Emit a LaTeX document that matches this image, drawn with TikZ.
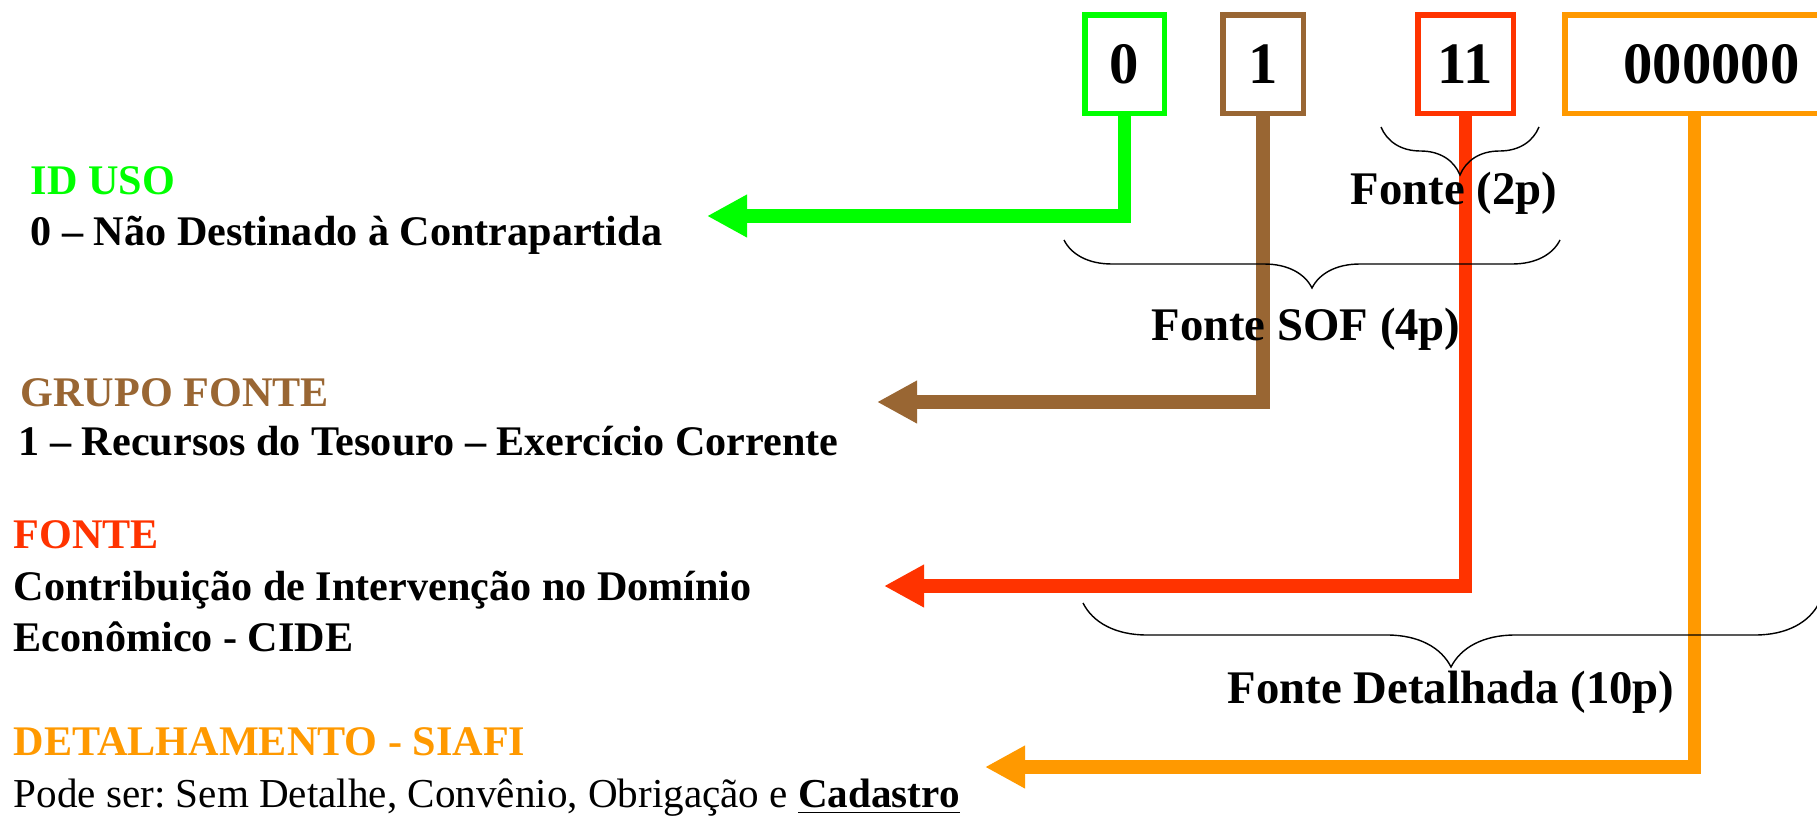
\documentclass[tikz,border=0pt]{standalone}
\usepackage{fontspec}
\setmainfont{Liberation Serif}
\usetikzlibrary{arrows.meta,decorations.pathreplacing}
\definecolor{idgreen}{RGB}{0,255,0}
\definecolor{grpbrown}{RGB}{153,102,51}
\definecolor{fontred}{RGB}{255,51,0}
\definecolor{detorange}{RGB}{255,153,0}
\frenchspacing
\tikzset{
  digit/.style={draw,line width=0.55mm,inner sep=0pt,minimum height=9.85mm,font=\fontsize{16.7}{20}\selectfont\bfseries},
  feed/.style={line width=1.35mm,-{Triangle[length=4mm,width=4mm]}},
  txt/.style={anchor=base west,inner sep=0pt,font=\fontsize{12}{14}\selectfont\bfseries},
  curly/.style={decorate,decoration={brace,mirror,amplitude=#1}},
  bracelabel/.style={anchor=base,inner sep=0pt,font=\fontsize{13.3}{16}\selectfont\bfseries}
}
\begin{document}
\begin{tikzpicture}[x=0.1mm,y=-0.1mm]
                \useasboundingbox (0,0) rectangle (1817,816);
                \node[digit,draw=idgreen,minimum width=7.95mm] (d1) at (1124.5,64) {0};
                \node[digit,draw=grpbrown,minimum width=8.05mm] (d2) at (1263,64) {1};
                \node[digit,draw=fontred,minimum width=9.55mm] (d3) at (1465.5,64) {11};
                \node[digit,draw=detorange,minimum width=29.35mm] (d4) at (1711.5,64) {000000};
                \coordinate (t1) at (707,216);\coordinate (t2) at (877,402);
                \coordinate (t3) at (884,586);\coordinate (t4) at (985,767);
                \draw[feed,idgreen] (d1.south) |- (t1);
                \draw[feed,grpbrown] (d2.south) |- (t2);
                \draw[feed,fontred] (d3.south) |- (t3);
                \draw[feed,detorange] ([xshift=-1.7mm]d4.south) |- (t4);
                \coordinate (b1l) at (1381,127);\coordinate (b1r) at (1539,127);
                \coordinate (b2l) at (1064,240);\coordinate (b2r) at (1560,240);
                \coordinate (b3l) at (1083,603);\coordinate (b3r) at (1819,603);
                \draw[curly=4.8mm] (b1l) -- (b1r);
                \draw[curly=4.8mm] (b2l) -- (b2r);
                \draw[curly=6.4mm] (b3l) -- (b3r);
                \node[bracelabel] (f2) at (1454,204) {Fonte (2p)};
                \node[bracelabel] (f4) at (1306,340) {Fonte SOF (4p)};
                \node[bracelabel] (f10) at (1451,703) {Fonte Detalhada (10p)};
                \node[txt,idgreen] (idh) at (30,194) {ID USO};
                \node[txt] (idt) at (30,245) {0 – Não Destinado à Contrapartida};
                \node[txt,grpbrown] (grh) at (20,406) {GRUPO FONTE};
                \node[txt] (grt) at (18,455) {1 – Recursos do Tesouro – Exercício Corrente};
                \node[txt,fontred] (fnh) at (13,548) {FONTE};
                \node[txt] (fnt) at (13,600) {Contribuição de Intervenção no Domínio};
                \node[txt] (fnt2) at (13,651) {Econômico - CIDE};
                \node[txt,detorange] (dth) at (13,755) {DETALHAMENTO - SIAFI};
                \node[txt,font=\fontsize{11.7}{14}\selectfont] (dtt) at (13,807) {Pode ser: Sem Detalhe, Convênio, Obrigação e \underline{\textbf{Cadastro}}};
\end{tikzpicture}
\end{document}
